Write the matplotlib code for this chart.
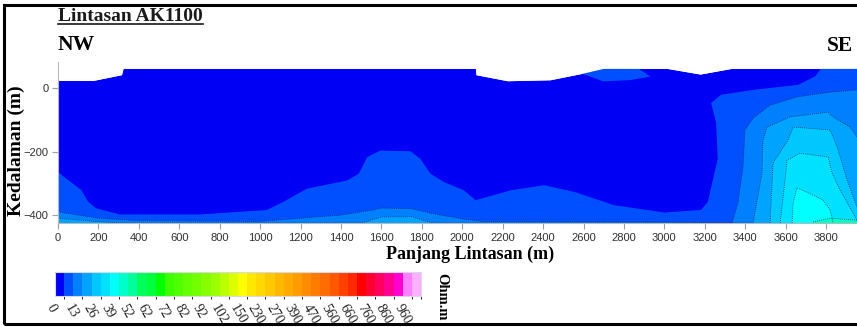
import numpy as np
import matplotlib
matplotlib.use("Agg")
import matplotlib.pyplot as plt
from matplotlib.colors import ListedColormap, BoundaryNorm
from matplotlib.cm import ScalarMappable
from matplotlib.patches import Rectangle
from matplotlib.lines import Line2D

# ---------------- data ----------------
# resistivity class boundaries (Ohm.m) of the colour scale
level_bounds = [0, 6.5, 13, 19.5, 26, 32.5, 39, 45.5, 52, 57, 62, 67, 72, 77, 82, 87,
                92, 97, 102, 126, 150, 190, 230, 250, 270, 330, 390, 430, 470, 515,
                560, 610, 660, 710, 760, 810, 860, 910, 960, 1010, 1060]
level_colors = ['#0000F4', '#0050FF', '#0080FF', '#00A4FF', '#00C8FF', '#00E0FF', '#00FFFF',
                '#00FFC8', '#00FF9C', '#00FF5A', '#00FF3C', '#00FF00', '#3CFF00', '#50FF00',
                '#64FF00', '#74FF00', '#88FF00', '#9CFF00', '#BCFF00', '#DCFF00', '#FFFF00',
                '#FFE800', '#FFD800', '#FFC800', '#FFB800', '#FFAA00', '#FF9C00', '#FF8C00',
                '#FF7C00', '#FF6C00', '#FF5800', '#FF4000', '#FF2800', '#FF0000', '#FF0030',
                '#FF0060', '#FF0090', '#FF00D0', '#FF80FF', '#FFB0FF']
cbar_tick_values = [0, 13, 26, 39, 52, 62, 72, 82, 92, 102, 150, 230, 270, 390, 470,
                    560, 660, 760, 860, 960]
x_ticks = list(range(0, 3801, 200))
y_ticks = [0, -200, -400]

# topographic surface of the section (distance m, elevation m)
surface_x = [0, 174, 314, 322, 2066, 2068, 2223, 2434, 2591, 2698, 3012, 3177, 3333, 3953]
surface_z = [24, 24, 42, 62, 62, 42, 23, 26, 46, 62, 62, 44, 62, 62]

# depth of the upper edge of each resistivity class along the profile
c065_x = [0, 116, 149, 190, 306, 702, 1033, 1116, 1231, 1430, 1488, 1529, 1595, 1744, 1793,
          1843, 1909, 2008, 2066, 2240, 2405, 2554, 2752, 3000, 3182, 3215, 3264, 3256, 3231,
          3281, 3450, 3661, 3744, 3777, 3953]
c065_z = [-265, -322, -358, -379, -398, -398, -384, -358, -317, -291, -270, -218, -197, -199,
          -223, -270, -296, -322, -353, -322, -306, -327, -369, -392, -384, -358, -223, -109,
          -47, -21, -5, 10, 36, 62, 62]
# small 6.5-13 lens under the surface
lens_x = [2591, 2698, 2872, 2930, 2830, 2698]
lens_z = [46, 62, 62, 36, 25, 21]

c13_x = [0, 100, 200, 400, 1000, 1200, 1400, 1550, 1600, 1750, 1850, 2000, 2100, 3000,
         3300, 3335, 3364, 3389, 3399, 3439, 3523, 3656, 3820, 3953]
c13_z = [-390, -400, -410, -418, -420, -410, -400, -385, -378, -380, -395, -412, -420, -422,
         -424, -425, -362, -249, -132, -95, -54, -28, -13, -6]

c195_x = [0, 150, 300, 1500, 1600, 1750, 1850, 3439, 3483, 3488, 3508, 3622, 3810, 3835,
          3919, 3953]
c195_z = [-410, -418, -425, -425, -406, -405, -425, -425, -268, -164, -123, -91, -76, -91,
          -123, -154]

c26_x = [3523, 3538, 3612, 3637, 3820, 3855, 3904, 3953]
c26_z = [-425, -236, -164, -123, -132, -186, -290, -375]

c325_x = [3573, 3597, 3607, 3671, 3810, 3830, 3869, 3934, 3953]
c325_z = [-425, -290, -227, -205, -217, -268, -321, -394, -416]

c39_x = [3632, 3637, 3656, 3706, 3785, 3820, 3835]
c39_z = [-425, -362, -315, -328, -353, -384, -425]

c455_x = [3736, 3820, 3953]
c455_z = [-422, -410, -416]

bands = [(6.5, c065_x, c065_z), (13, c13_x, c13_z), (19.5, c195_x, c195_z),
         (26, c26_x, c26_z), (32.5, c325_x, c325_z), (39, c39_x, c39_z),
         (45.5, c455_x, c455_z)]

# ---------------- figure ----------------
W, H = 857, 327
fig = plt.figure(figsize=(W / 100, H / 100), dpi=100)
fig.patch.set_facecolor('white')

cmap = ListedColormap(level_colors)
norm = BoundaryNorm(level_bounds, cmap.N)

ZB, ZT = -425, 82
ax = fig.add_axes([58 / W, (H - 223) / H, (W - 58) / W, 161 / H])
ax.set_xlim(0, 3953)
ax.set_ylim(ZB, ZT)


def band_color(v):
    i = np.searchsorted(level_bounds, v, side='right') - 1
    mid = 0.5 * (level_bounds[i] + level_bounds[i + 1])
    return cmap(norm(mid))


# background class (0 - 6.5)
ax.fill_between(surface_x, surface_z, ZB, color=band_color(1), lw=0, zorder=1)
ax.fill(lens_x, lens_z, color=band_color(6.5), lw=0, zorder=2)
for k, (v, xs, zs) in enumerate(bands):
    xs = np.asarray(xs, float)
    zs = np.asarray(zs, float)
    px = np.r_[xs, xs[-1], xs[0]]
    pz = np.r_[zs, ZB, ZB]
    ax.fill(px, pz, color=band_color(v + 0.1), lw=0, zorder=2 + k)
    if v >= 13:
        keep = zs > ZB + 0.5
        keep = keep | np.r_[keep[1:], False] | np.r_[False, keep[:-1]]
        zl = np.where(keep, zs, np.nan)
        ax.plot(xs, zl, color='#1a1a40', lw=0.6, ls=(0, (1, 1.5)), zorder=12, alpha=0.8)

# white sky above the surface
ax.fill_between(surface_x, surface_z, ZT, color='white', lw=0, zorder=15)

for s in ['top', 'right']:
    ax.spines[s].set_visible(False)
for s in ['left', 'bottom']:
    ax.spines[s].set_color('#B8B8B8')
    ax.spines[s].set_linewidth(0.8)
    ax.spines[s].set_zorder(20)
ax.set_xticks(x_ticks)
ax.set_yticks(y_ticks)
ax.tick_params(direction='out', length=4, width=0.8, color='#A0A0A0',
               labelcolor='#303030', labelsize=8, pad=3)
for lab in ax.get_xticklabels() + ax.get_yticklabels():
    lab.set_family('Liberation Sans')

serif = 'Liberation Serif'
fig.text(16 / W, 1 - 151 / H, 'Kedalaman (m)', rotation=90, ha='center', va='center',
         fontsize=14, fontweight='bold', family=serif)
fig.text(470 / W, 1 - 254 / H, 'Panjang Lintasan (m)', ha='center', va='center',
         fontsize=13, fontweight='bold', family=serif)
title = fig.text(58 / W, 1 - 21 / H, 'Lintasan AK1100', ha='left', va='baseline',
                 fontsize=14, fontweight='bold', family=serif, color='#1a1a1a')
fig.text(58 / W, 1 - 50 / H, 'NW', ha='left', va='baseline', fontsize=15.5,
         fontweight='bold', family=serif)
fig.text(853 / W, 1 - 51 / H, 'SE', ha='right', va='baseline', fontsize=15.5,
         fontweight='bold', family=serif)
fig.text(442 / W, 1 - 297 / H, 'Ohm.m', rotation=-90, ha='center', va='center',
         fontsize=10.5, fontweight='bold', family=serif)

# colour bar
cax = fig.add_axes([55 / W, (H - 296) / H, 366 / W, 24 / H])
cb = fig.colorbar(ScalarMappable(norm=norm, cmap=cmap), cax=cax, orientation='horizontal',
                  spacing='uniform', ticks=cbar_tick_values)
cb.outline.set_edgecolor('#D8D8E8')
cb.outline.set_linewidth(0.8)
cax.tick_params(length=0, pad=4)
cax.set_xticklabels([str(v) for v in cbar_tick_values])
for lab in cax.get_xticklabels():
    lab.set_rotation(-60)
    lab.set_ha('left')
    lab.set_va('top')
    lab.set_rotation_mode('anchor')
    lab.set_family(serif)
    lab.set_fontsize(10)
    lab.set_color('#202020')

# outer frame
fig.add_artist(Rectangle((4 / W, 1 - 323.5 / H), 2.0, (323.5 - 5) / H,
                         transform=fig.transFigure, fill=False, ec='black', lw=2.2))

# underline of the title
fig.canvas.draw()
bb = title.get_window_extent()
uy = 1 - 24 / H
fig.add_artist(Line2D([bb.x0 / W, bb.x1 / W], [uy, uy], transform=fig.transFigure,
                      color='#1a1a1a', lw=1.2))

fig.savefig('out.png', dpi=100)
